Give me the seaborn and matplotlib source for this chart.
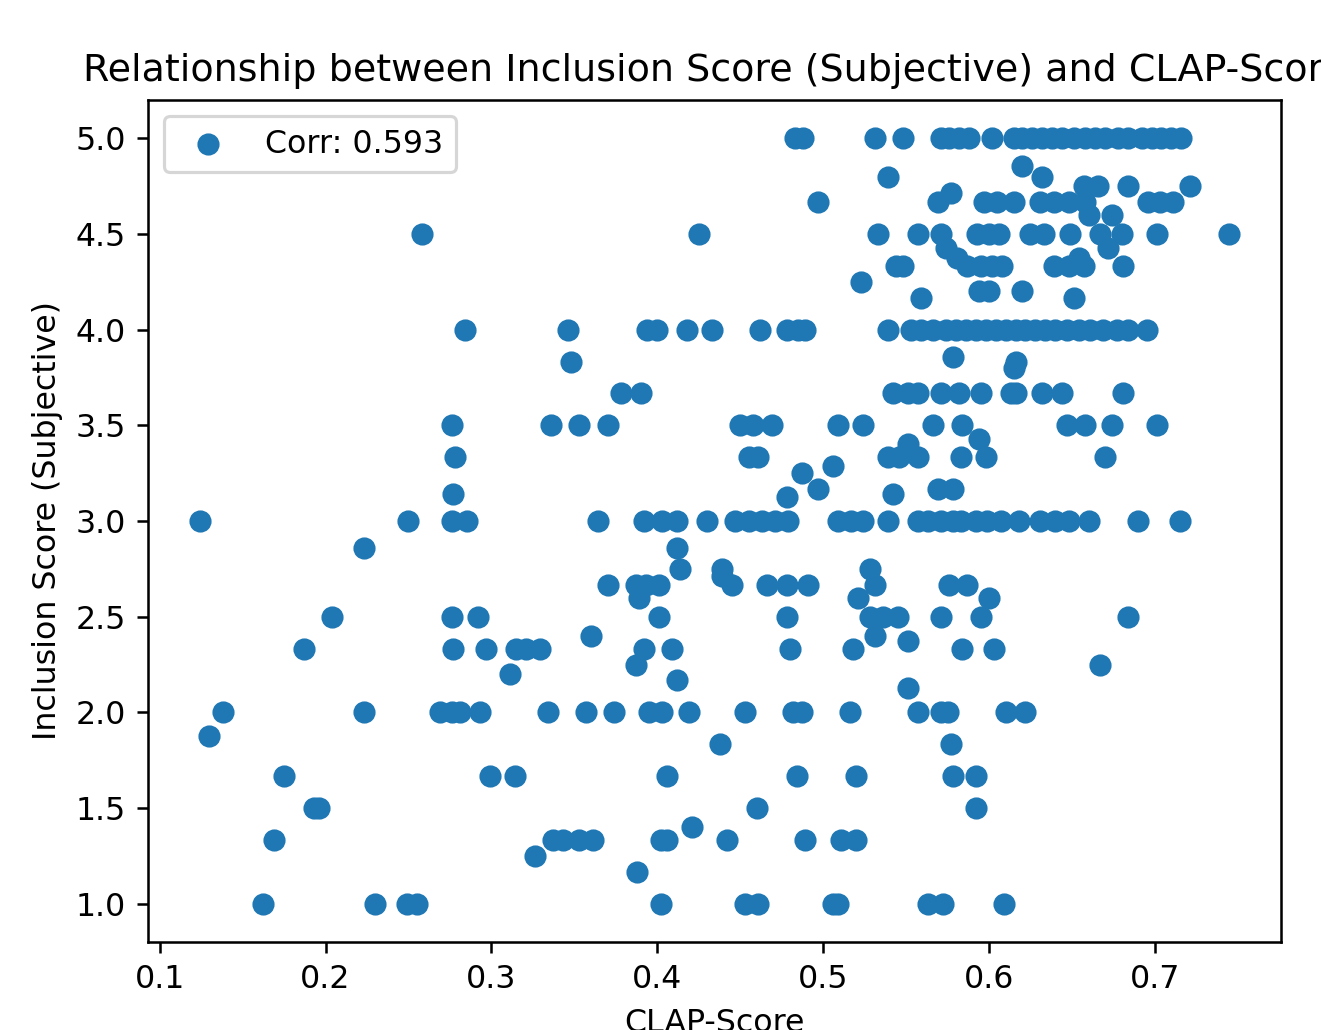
import pandas as pd
import numpy as np
import matplotlib
matplotlib.use("Agg")
import matplotlib.pyplot as plt
import seaborn as sns

# Inclusion score levels and the CLAP scores of the points on each level
levels = [5.0, 4.857, 4.8, 4.75, 4.714, 4.667, 4.6, 4.5, 4.429, 4.375, 4.333, 4.25, 4.2, 4.167,
          4.0, 3.857, 3.833, 3.8, 3.667, 3.5, 3.429, 3.4, 3.333, 3.286, 3.25, 3.167, 3.143, 3.125,
          3.0, 2.857, 2.75, 2.714, 2.667, 2.6, 2.5, 2.4, 2.375, 2.333, 2.25, 2.2, 2.167, 2.125,
          2.0, 1.875, 1.833, 1.667, 1.5, 1.4, 1.333, 1.25, 1.167, 1.0]

clap_per_level = [
    [0.483, 0.488, 0.531, 0.548, 0.571, 0.576, 0.582, 0.588, 0.602, 0.615, 0.620, 0.626, 0.632,
     0.638, 0.644, 0.651, 0.658, 0.664, 0.670, 0.678, 0.684, 0.692, 0.698, 0.704, 0.710, 0.716],
    [0.620],
    [0.539, 0.632],
    [0.657, 0.666, 0.684, 0.721],
    [0.577],
    [0.497, 0.569, 0.597, 0.605, 0.615, 0.631, 0.639, 0.648, 0.658, 0.696, 0.703, 0.711],
    [0.660, 0.674],
    [0.258, 0.425, 0.533, 0.557, 0.571, 0.593, 0.600, 0.606, 0.625, 0.633, 0.649, 0.667, 0.680,
     0.701, 0.745],
    [0.574, 0.672],
    [0.581, 0.654],
    [0.544, 0.548, 0.587, 0.595, 0.602, 0.608, 0.639, 0.648, 0.657, 0.681],
    [0.523],
    [0.594, 0.600, 0.620],
    [0.559, 0.651],
    [0.284, 0.346, 0.394, 0.400, 0.418, 0.433, 0.462, 0.478, 0.485, 0.489, 0.539, 0.553, 0.559,
     0.566, 0.574, 0.580, 0.586, 0.592, 0.598, 0.604, 0.610, 0.616, 0.622, 0.628, 0.634, 0.640,
     0.647, 0.654, 0.661, 0.669, 0.677, 0.684, 0.695],
    [0.578],
    [0.348, 0.616],
    [0.615],
    [0.378, 0.390, 0.542, 0.551, 0.557, 0.571, 0.582, 0.595, 0.613, 0.616, 0.632, 0.644, 0.681],
    [0.276, 0.336, 0.353, 0.370, 0.450, 0.458, 0.469, 0.509, 0.524, 0.566, 0.584, 0.647, 0.658,
     0.674, 0.701],
    [0.594],
    [0.551],
    [0.278, 0.455, 0.461, 0.539, 0.546, 0.557, 0.583, 0.598, 0.670],
    [0.506],
    [0.487],
    [0.497, 0.569, 0.578],
    [0.277, 0.542],
    [0.478],
    [0.124, 0.250, 0.276, 0.285, 0.364, 0.392, 0.403, 0.412, 0.430, 0.447, 0.455, 0.463, 0.471,
     0.479, 0.509, 0.517, 0.524, 0.539, 0.557, 0.563, 0.571, 0.578, 0.583, 0.592, 0.599, 0.607,
     0.618, 0.631, 0.640, 0.648, 0.660, 0.690, 0.715],
    [0.223, 0.412],
    [0.414, 0.439, 0.528],
    [0.439],
    [0.370, 0.387, 0.393, 0.401, 0.445, 0.466, 0.478, 0.491, 0.531, 0.576, 0.587],
    [0.389, 0.521, 0.600],
    [0.204, 0.276, 0.292, 0.401, 0.478, 0.528, 0.536, 0.545, 0.571, 0.595, 0.684],
    [0.360, 0.531],
    [0.551],
    [0.187, 0.277, 0.297, 0.315, 0.321, 0.329, 0.392, 0.409, 0.480, 0.518, 0.584, 0.603],
    [0.387, 0.667],
    [0.311],
    [0.412],
    [0.551],
    [0.138, 0.223, 0.269, 0.276, 0.281, 0.293, 0.334, 0.357, 0.374, 0.395, 0.403, 0.419, 0.453,
     0.482, 0.487, 0.516, 0.557, 0.571, 0.575, 0.610, 0.622],
    [0.130],
    [0.438, 0.577],
    [0.175, 0.299, 0.314, 0.406, 0.484, 0.520, 0.578, 0.592],
    [0.193, 0.196, 0.460, 0.592],
    [0.421],
    [0.169, 0.337, 0.343, 0.353, 0.361, 0.402, 0.406, 0.442, 0.489, 0.511, 0.520],
    [0.326],
    [0.388],
    [0.162, 0.230, 0.249, 0.255, 0.402, 0.453, 0.461, 0.506, 0.509, 0.563, 0.572, 0.609],
]

corr_label = "Corr: 0.593"

rows = []
for lvl, xs in zip(levels, clap_per_level):
    for x in xs:
        rows.append((x, lvl))
df = pd.DataFrame(rows, columns=["CLAP-Score", "Inclusion Score (Subjective)"])

fig = plt.figure(figsize=(1321 / 228, 1030 / 228), dpi=228)
ax = fig.add_axes([148 / 1321, 88 / 1030, 1133 / 1321, 842 / 1030])

sns.scatterplot(
    data=df,
    x="CLAP-Score",
    y="Inclusion Score (Subjective)",
    color="#1f77b4",
    s=36,
    edgecolor="#1f77b4",
    linewidth=1,
    alpha=1,
    label=corr_label,
    ax=ax
)

ax.set_title("Relationship between Inclusion Score (Subjective) and CLAP-Score")
ax.set_xlabel("CLAP-Score")
ax.set_ylabel("Inclusion Score (Subjective)")
ax.legend(loc="upper left")

fig.savefig("out.png", dpi=228)
